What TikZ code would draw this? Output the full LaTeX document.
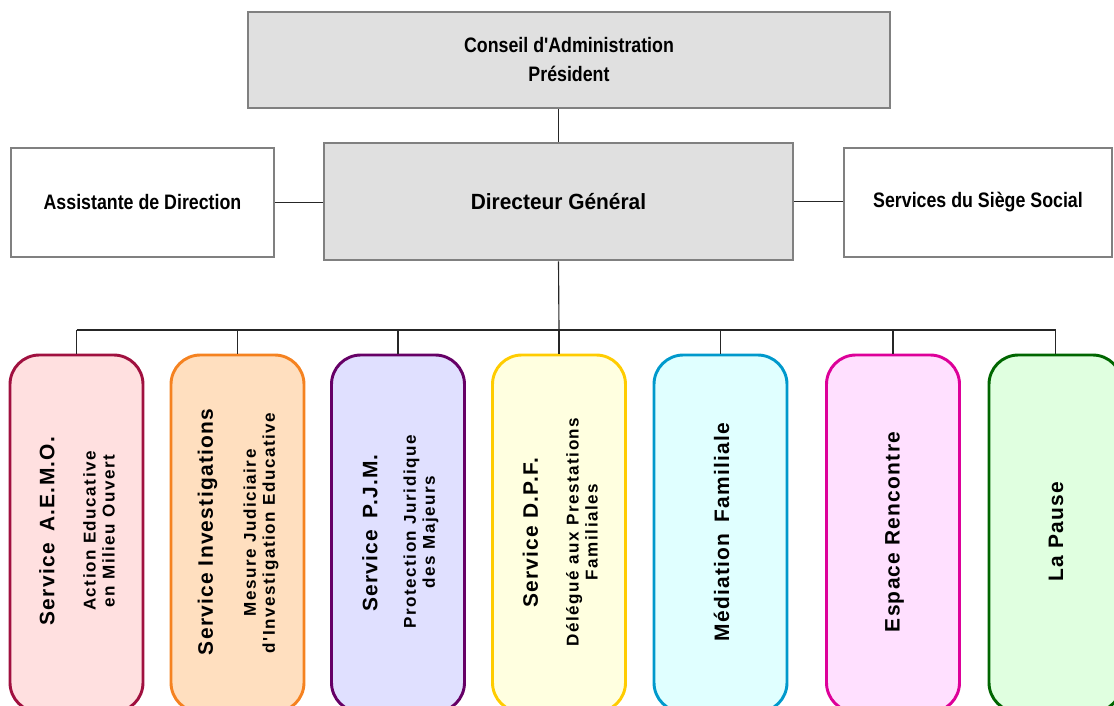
\documentclass[tikz,border=0pt]{standalone}
\usepackage{fontspec}
\setmainfont{Liberation Sans}
\newfontfamily\narrowfont[FakeStretch=0.85]{Liberation Sans}
\newfontfamily\dirfont[FakeStretch=0.95]{Liberation Sans}
\newfontfamily\titlefont[LetterSpace=6]{Liberation Sans}
\newfontfamily\subfont[LetterSpace=9]{Liberation Sans}
\definecolor{boxgray}{HTML}{E0E0E0}
\definecolor{bordergray}{HTML}{808080}
\definecolor{bAone}{HTML}{A0103F}\definecolor{fAone}{HTML}{FFE0E0}
\definecolor{bAtwo}{HTML}{F58220}\definecolor{fAtwo}{HTML}{FFDFBF}
\definecolor{bAthree}{HTML}{660066}\definecolor{fAthree}{HTML}{E0E0FF}
\definecolor{bAfour}{HTML}{FFCC00}\definecolor{fAfour}{HTML}{FFFFE0}
\definecolor{bAfive}{HTML}{0099CC}\definecolor{fAfive}{HTML}{E0FFFF}
\definecolor{bAsix}{HTML}{DD0099}\definecolor{fAsix}{HTML}{FFE0FF}
\definecolor{bAseven}{HTML}{006600}\definecolor{fAseven}{HTML}{E0FFE0}
\tikzset{
  topbox/.style={draw=bordergray, line width=2.2pt, inner sep=0pt, align=center,
    font=\narrowfont\bfseries\fontsize{15.7}{21.75}\selectfont},
  servbox/.style={draw=#1, line width=2.2pt, rounded corners=22pt, inner sep=0pt,
    minimum width=99.75pt, minimum height=267.75pt},
  ttl/.style={rotate=90, inner sep=0pt, font=\titlefont\bfseries\fontsize{15.7}{18}\selectfont},
  subt/.style={rotate=90, inner sep=0pt, align=center, font=\subfont\bfseries\fontsize{12.8}{14.3}\selectfont},
  conn/.style={line width=0.85pt, draw=black!85}
}
\begin{document}
\begin{tikzpicture}[x=0.75pt, y=-0.75pt]
\useasboundingbox (0,0) rectangle (1114,706);
\clip (0,0) rectangle (1114,706);
% top boxes
\node[topbox, fill=boxgray, minimum width=481.5pt, minimum height=72pt] (cons) at (569,60)
  {Conseil d'Administration\\Président};
\node[topbox, fill=boxgray, minimum width=351.75pt, minimum height=87.75pt,
  font=\dirfont\bfseries\fontsize{16.5}{20}\selectfont] (dir) at (558.5,201.5) {Directeur Général};
\node[topbox, fill=white, minimum width=197.25pt, minimum height=81.75pt] (asst) at (142.5,202.5)
  {Assistante de Direction};
\node[topbox, fill=white, minimum width=201pt, minimum height=81.75pt] (sieg) at (978,202.5)
  {Services du Siège Social};
% service boxes
\node[servbox=bAone, fill=fAone] (b1) at (76.5,533.5) {};
\node[servbox=bAtwo, fill=fAtwo] (b2) at (237.5,533.5) {};
\node[servbox=bAthree, fill=fAthree] (b3) at (398,533.5) {};
\node[servbox=bAfour, fill=fAfour] (b4) at (559,533.5) {};
\node[servbox=bAfive, fill=fAfive] (b5) at (720.5,533.5) {};
\node[servbox=bAsix, fill=fAsix] (b6) at (893,533.5) {};
\node[servbox=bAseven, fill=fAseven] (b7) at (1055.5,533.5) {};
% texts
\node[ttl] (t1) at (47,531) {Service\hspace{0.55em}A.E.M.O.};
\node[subt] (s1) at (99,531) {Action Educative\\en Milieu Ouvert};
\node[ttl] (t2) at (207.5,532) {Service Investigations};
\node[subt] (s2) at (261,533) {Mesure Judiciaire\\d'Investigation Educative};
\node[ttl] (t3) at (370,533) {Service\hspace{0.55em}P.J.M.};
\node[subt] (s3) at (421,532) {Protection Juridique\\des Majeurs};
\node[ttl] (t4) at (530.5,533) {Service D.P.F.};
\node[subt] (s4) at (582,532) {Délégué aux Prestations\\Familiales};
\node[ttl] (t5) at (721.5,532) {Médiation\hspace{0.55em}Familiale};
\node[ttl] (t6) at (894.5,532) {Espace Rencontre};
\node[ttl] (t7) at (1056,532) {La Pause};
% connectors
\coordinate (bus) at (559,330);
\draw[conn] (dir.north) -- (dir.north |- cons.south);
\draw[conn] (asst.east) -- (asst.east -| dir.west);
\draw[conn] (dir.east) -- (dir.east -| sieg.west);
\draw[conn] (dir.south) -- (bus);
\draw[conn] (b1.north |- bus) -- (b7.north |- bus);
\foreach \b in {b1,b2,b3,b4,b5,b6,b7}{
  \draw[conn] (\b.north) -- (\b.north |- bus);
}
\end{tikzpicture}
\end{document}
